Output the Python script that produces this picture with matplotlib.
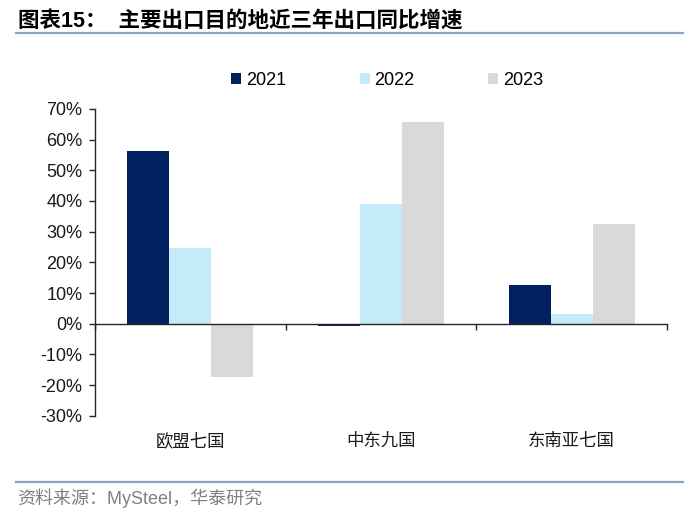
"""Export growth by destination region, 2021-2023 (grouped bar chart)."""

import matplotlib
matplotlib.use("Agg")
import matplotlib.pyplot as plt
import matplotlib.transforms as mtransforms
from matplotlib.lines import Line2D
from matplotlib.patches import Patch
from matplotlib.ticker import PercentFormatter

plt.rcParams["font.family"] = ["Liberation Sans", "Noto Sans CJK SC", "DejaVu Sans"]
plt.rcParams["axes.unicode_minus"] = False

# --- data (YoY export growth, %) ---
regions = ["欧盟七国", "中东九国", "东南亚七国"]
years = ["2021", "2022", "2023"]
growth_2021 = [56.3, -0.7, 12.6]
growth_2022 = [24.7, 39.1, 3.0]
growth_2023 = [-17.4, 65.6, 32.4]
yticks = [-30, -20, -10, 0, 10, 20, 30, 40, 50, 60, 70]

colors = ["#002060", "#C5EBFA", "#D9D9D9"]
series = [growth_2021, growth_2022, growth_2023]

fig = plt.figure(figsize=(7.0, 5.14), dpi=100)
ax = fig.add_axes([0.1357, 0.1912, 0.8171, 0.5968])

bar_w = 0.22
for i, (vals, col) in enumerate(zip(series, colors)):
    xs = [k + (i - 1) * bar_w for k in range(len(regions))]
    ax.bar(xs, vals, width=bar_w, color=col, linewidth=0, zorder=2)

ax.set_xlim(-0.5, len(regions) - 0.5)
ax.set_ylim(yticks[0], yticks[-1])
ax.set_yticks(yticks)
ax.yaxis.set_major_formatter(PercentFormatter(decimals=0))

axis_col = "#262626"
for side in ("top", "right"):
    ax.spines[side].set_visible(False)
ax.spines["bottom"].set_position(("data", 0))
for side in ("left", "bottom"):
    ax.spines[side].set_color(axis_col)
    ax.spines[side].set_linewidth(1.0)

ax.tick_params(axis="y", direction="out", length=4, width=1.0, color=axis_col,
               labelsize=13, labelcolor="#1a1a1a", pad=5)
# category boundary ticks on the zero line, labels drawn at the bottom
ax.set_xticks([k - 0.5 for k in range(len(regions) + 1)])
ax.tick_params(axis="x", direction="out", length=4, width=1.0, color=axis_col,
               labelbottom=False)

trans = mtransforms.blended_transform_factory(ax.transData, ax.transAxes)
for k, name in enumerate(regions):
    ax.text(k, -0.0825, name, transform=trans, ha="center", va="center",
            fontsize=12.5, color="#1a1a1a")

# legend
handles = [Patch(facecolor=c, edgecolor="none") for c in colors]
fig.legend(handles, years, loc="center", bbox_to_anchor=(0.553, 0.843), ncol=3,
           frameon=False, fontsize=13, handlelength=0.55, handleheight=0.55,
           handletextpad=0.25, columnspacing=4.1)

# title, rules and source
fig.text(0.026, 0.9586, "图表15：  主要出口目的地近三年出口同比增速",
         ha="left", va="center", fontsize=15.5, fontweight="bold", color="black")
rule_col = "#8EA4C1"
fig.add_artist(Line2D([0.0224, 0.9757], [0.9352, 0.9352], transform=fig.transFigure,
                      color=rule_col, linewidth=1.6))
fig.add_artist(Line2D([0.0224, 0.9757], [0.0628, 0.0628], transform=fig.transFigure,
                      color=rule_col, linewidth=1.6))
fig.text(0.0238, 0.031, "资料来源：MySteel，华泰研究", ha="left", va="center",
         fontsize=13, color="#808080")

fig.savefig("out.png", dpi=100)
